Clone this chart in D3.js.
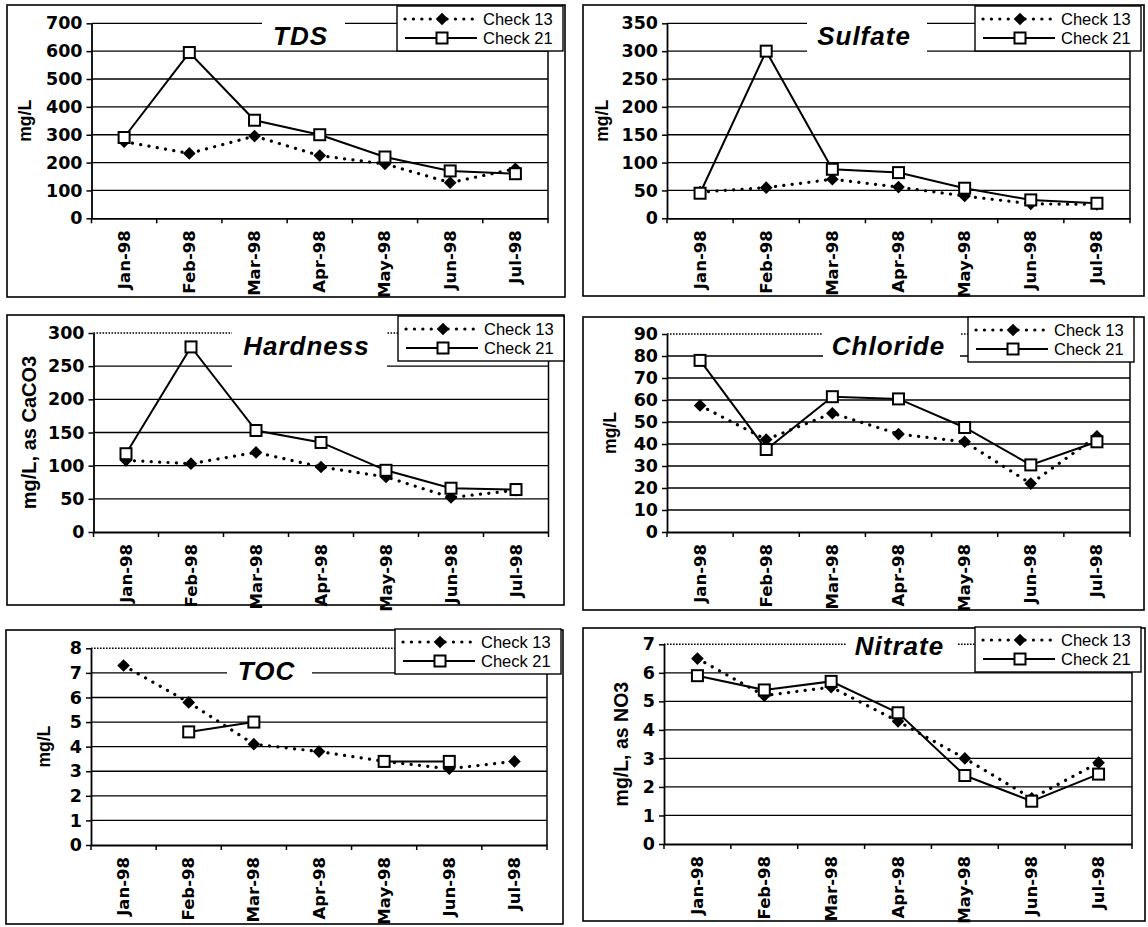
<!DOCTYPE html>
<html>
<head>
<meta charset="utf-8">
<script src="https://cdn.jsdelivr.net/npm/d3@7"></script>
<style>
  body { margin: 0; background: #fff; }
  svg { display: block; }
</style>
</head>
<body>
<svg id="chart" width="1148" height="927"></svg>
<script>
// ---- data ----
const months = ["Jan-98", "Feb-98", "Mar-98", "Apr-98", "May-98", "Jun-98", "Jul-98"];
const seriesNames = ["Check 13", "Check 21"];

const tdsCheck13 = [275, 233, 295, 225, 195, 128, 178];
const tdsCheck21 = [290, 595, 352, 300, 220, 170, 160];
const tdsTicks = [0, 100, 200, 300, 400, 500, 600, 700];

const sulfateCheck13 = [47, 55, 70, 56, 40, 26, 25];
const sulfateCheck21 = [45, 300, 88, 82, 54, 33, 27];
const sulfateTicks = [0, 50, 100, 150, 200, 250, 300, 350];

const hardnessCheck13 = [108, 103, 120, 98, 83, 52, 63];
const hardnessCheck21 = [118, 279, 153, 135, 93, 66, 64];
const hardnessTicks = [0, 50, 100, 150, 200, 250, 300];

const chlorideCheck13 = [57.5, 42, 54, 44.5, 41, 22, 43.5];
const chlorideCheck21 = [78, 37.5, 61.5, 60.5, 47.5, 30.5, 41];
const chlorideTicks = [0, 10, 20, 30, 40, 50, 60, 70, 80, 90];

const tocCheck13 = [7.3, 5.8, 4.1, 3.8, 3.4, 3.1, 3.4];
const tocCheck21 = [null, 4.6, 5.0, null, 3.4, 3.4, null];
const tocTicks = [0, 1, 2, 3, 4, 5, 6, 7, 8];

const nitrateCheck13 = [6.5, 5.2, 5.5, 4.3, 3.0, 1.6, 2.85];
const nitrateCheck21 = [5.9, 5.4, 5.7, 4.6, 2.4, 1.5, 2.45];
const nitrateTicks = [0, 1, 2, 3, 4, 5, 6, 7];

const titles = ["TDS", "Sulfate", "Hardness", "Chloride", "TOC", "Nitrate"];
const yLabels = ["mg/L", "mg/L", "mg/L, as CaCO3", "mg/L", "mg/L", "mg/L, as NO3"];

const panels = [
  { title: titles[0], yLabel: yLabels[0], s13: tdsCheck13, s21: tdsCheck21, ticks: tdsTicks },
  { title: titles[1], yLabel: yLabels[1], s13: sulfateCheck13, s21: sulfateCheck21, ticks: sulfateTicks },
  { title: titles[2], yLabel: yLabels[2], s13: hardnessCheck13, s21: hardnessCheck21, ticks: hardnessTicks },
  { title: titles[3], yLabel: yLabels[3], s13: chlorideCheck13, s21: chlorideCheck21, ticks: chlorideTicks },
  { title: titles[4], yLabel: yLabels[4], s13: tocCheck13, s21: tocCheck21, ticks: tocTicks },
  { title: titles[5], yLabel: yLabels[5], s13: nitrateCheck13, s21: nitrateCheck21, ticks: nitrateTicks }
];

// ---- layout of the six framed charts ----
const layout = [
  { box: [7, 5, 558, 292], plot: { l: 91.5, r: 548, t: 23.3, b: 218.3 }, topDotted: false,
    tbox: [262, 12, 83, 37], tBase: 45, yLab: { x: 25, size: 17.5 }, legend: [397, 6] },
  { box: [583, 5, 561, 291], plot: { l: 667, r: 1130, t: 23.3, b: 218.3 }, topDotted: false,
    tbox: [807, 12, 120, 44], tBase: 45, yLab: { x: 602, size: 17.5 }, legend: [975, 6] },
  { box: [7, 315, 557, 290], plot: { l: 93.5, r: 548.5, t: 333, b: 532 }, topDotted: true,
    tbox: [232, 322, 155, 50], tBase: 355, yLab: { x: 29, size: 20 }, legend: [398, 316] },
  { box: [583, 317, 561, 293], plot: { l: 667, r: 1130, t: 334, b: 532 }, topDotted: true,
    tbox: [823, 322, 137, 43], tBase: 355, yLab: { x: 610, size: 17.5 }, legend: [968, 317] },
  { box: [6, 630, 557, 294], plot: { l: 91, r: 547, t: 648.3, b: 845 }, topDotted: true,
    tbox: [227, 653, 85, 37], tBase: 680, yLab: { x: 44, size: 17.5 }, legend: [395, 629] },
  { box: [583, 628, 562, 293], plot: { l: 664, r: 1132, t: 644.3, b: 844 }, topDotted: true,
    tbox: [847, 630, 111, 32], tBase: 655, yLab: { x: 621, size: 19.5 }, legend: [975, 627] }
];

const FONT = '"Liberation Sans", Arial, sans-serif';
const WIDE = '"DejaVu Sans", sans-serif';
const svg = d3.select("#chart");

function drawDiamond(sel, cx, cy) {
  sel.append("path")
    .attr("d", d3.symbol().type(d3.symbolSquare).size(80)())
    .attr("transform", `translate(${cx},${cy}) rotate(45)`)
    .attr("fill", "#000");
}
function drawSquare(sel, cx, cy) {
  sel.append("rect")
    .attr("x", cx - 5.5).attr("y", cy - 5.5)
    .attr("width", 11).attr("height", 11)
    .attr("fill", "#fff").attr("stroke", "#000").attr("stroke-width", 2);
}

panels.forEach((p, i) => {
  const L = layout[i];
  const P = L.plot;
  const g = svg.append("g").attr("class", "panel");
  const yMax = d3.max(p.ticks);

  // outer frame
  g.append("rect")
    .attr("x", L.box[0]).attr("y", L.box[1])
    .attr("width", L.box[2]).attr("height", L.box[3])
    .attr("fill", "#fff").attr("stroke", "#000").attr("stroke-width", 1.6);

  const x = d3.scaleBand().domain(months).range([P.l, P.r]);
  const xc = m => x(m) + x.bandwidth() / 2;
  const y = d3.scaleLinear().domain([0, yMax]).range([P.b, P.t]);

  // horizontal gridlines
  g.append("g").selectAll("line")
    .data(p.ticks.filter(t => t > 0))
    .join("line")
    .attr("x1", P.l).attr("x2", P.r)
    .attr("y1", d => y(d)).attr("y2", d => y(d))
    .attr("stroke", "#000")
    .attr("stroke-width", d => (L.topDotted && d === yMax) ? 1.4 : 1.3)
    .attr("stroke-dasharray", d => (L.topDotted && d === yMax) ? "1.6,1.4" : null);

  // right edge of plot area
  g.append("line")
    .attr("x1", P.r).attr("x2", P.r).attr("y1", P.t).attr("y2", P.b)
    .attr("stroke", "#000").attr("stroke-width", 1.5);

  // y axis
  const ya = g.append("g")
    .attr("transform", `translate(${P.l},0)`)
    .call(d3.axisLeft(y).tickValues(p.ticks).tickFormat(d3.format("d"))
      .tickSize(5).tickSizeOuter(0).tickPadding(4));
  ya.select(".domain").attr("stroke", "#000").attr("stroke-width", 1.8);
  ya.selectAll(".tick line").attr("stroke", "#000").attr("stroke-width", 1.5);
  ya.selectAll(".tick text")
    .attr("font-family", WIDE).attr("font-weight", "bold").attr("font-size", 17.5)
    .attr("fill", "#000");

  // x axis with ticks on category boundaries
  const xa = g.append("g")
    .attr("transform", `translate(0,${P.b})`)
    .call(d3.axisBottom(x).tickSize(0).tickSizeOuter(0).tickFormat(""));
  xa.select(".domain").attr("stroke", "#000").attr("stroke-width", 1.8);
  const bounds = months.map(m => x(m)).concat([x(months[months.length - 1]) + x.bandwidth()]);
  g.append("g").selectAll("line").data(bounds).join("line")
    .attr("x1", d => d).attr("x2", d => d)
    .attr("y1", P.b).attr("y2", P.b + 5)
    .attr("stroke", "#000").attr("stroke-width", 1.5);

  g.append("g").selectAll("text").data(months).join("text")
    .attr("transform", d => `translate(${xc(d)},${P.b + 12}) rotate(-90)`)
    .attr("text-anchor", "end")
    .attr("dominant-baseline", "central")
    .attr("font-family", WIDE).attr("font-weight", "bold").attr("font-size", 16.5)
    .attr("fill", "#000")
    .text(d => d);

  // y axis title
  g.append("text")
    .attr("transform", `translate(${L.yLab.x},${(P.t + P.b) / 2}) rotate(-90)`)
    .attr("text-anchor", "middle")
    .attr("dominant-baseline", "central")
    .attr("font-family", FONT).attr("font-weight", "bold").attr("font-size", L.yLab.size)
    .attr("fill", "#000")
    .text(p.yLabel);

  // chart title on a white patch
  g.append("rect")
    .attr("x", L.tbox[0]).attr("y", L.tbox[1])
    .attr("width", L.tbox[2]).attr("height", L.tbox[3])
    .attr("fill", "#fff");
  g.append("text")
    .attr("x", L.tbox[0] + L.tbox[2] / 2 - 3).attr("y", L.tBase)
    .attr("text-anchor", "middle")
    .attr("font-family", FONT).attr("font-weight", "bold").attr("font-style", "italic")
    .attr("font-size", 26).attr("letter-spacing", 1)
    .attr("fill", "#000")
    .text(p.title);

  // series lines
  const line = d3.line()
    .defined(d => d.v != null)
    .x(d => xc(d.m))
    .y(d => y(d.v));
  const d13 = months.map((m, k) => ({ m, v: p.s13[k] }));
  const d21 = months.map((m, k) => ({ m, v: p.s21[k] }));

  g.append("path").datum(d13).attr("d", line)
    .attr("fill", "none").attr("stroke", "#000").attr("stroke-width", 3.2)
    .attr("stroke-linecap", "round").attr("stroke-dasharray", "0.1,8.3");
  g.append("path").datum(d21).attr("d", line)
    .attr("fill", "none").attr("stroke", "#000").attr("stroke-width", 2);

  const mk = g.append("g");
  d13.filter(d => d.v != null).forEach(d => drawDiamond(mk, xc(d.m), y(d.v)));
  d21.filter(d => d.v != null).forEach(d => drawSquare(mk, xc(d.m), y(d.v)));

  // legend
  const lg = g.append("g").attr("transform", `translate(${L.legend[0]},${L.legend[1]})`);
  lg.append("rect").attr("width", 166).attr("height", 45)
    .attr("fill", "#fff").attr("stroke", "#000").attr("stroke-width", 1.4);
  const rows = [13, 32];
  seriesNames.forEach((name, k) => {
    const ry = rows[k];
    const ln = lg.append("line")
      .attr("x1", 8).attr("x2", 80).attr("y1", ry).attr("y2", ry)
      .attr("stroke", "#000");
    if (k === 0) {
      ln.attr("stroke-width", 3.2).attr("stroke-linecap", "round").attr("stroke-dasharray", "0.1,8.3");
      drawDiamond(lg, 45, ry);
    } else {
      ln.attr("stroke-width", 2);
      drawSquare(lg, 45, ry);
    }
    lg.append("text")
      .attr("x", 86).attr("y", ry)
      .attr("dominant-baseline", "central")
      .attr("font-family", FONT).attr("font-size", 16.5)
      .attr("fill", "#000")
      .text(name);
  });
});
</script>
</body>
</html>
